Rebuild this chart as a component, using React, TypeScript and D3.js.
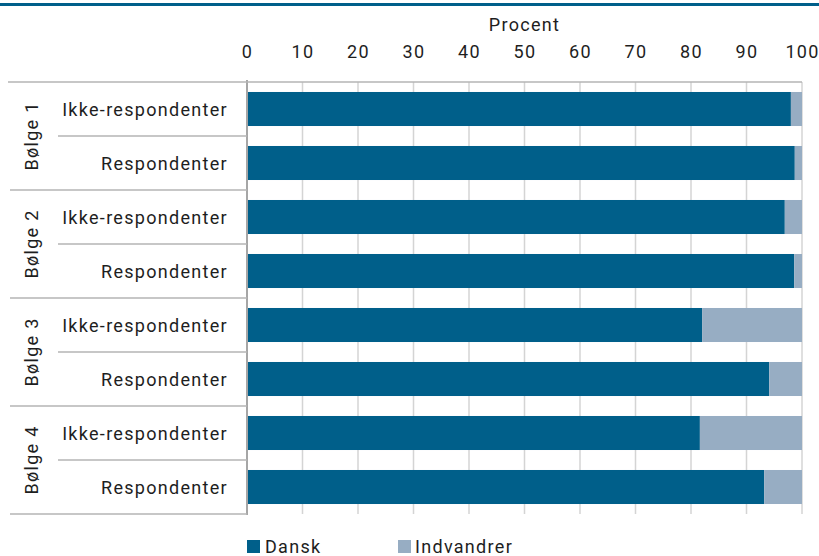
import React from "react";
import * as d3 from "d3";

const groups = ["Bølge 1", "Bølge 2", "Bølge 3", "Bølge 4"];
const subgroups = ["Ikke-respondenter", "Respondenter"];
const dansk = [98.0, 98.7, 96.9, 98.6, 82.0, 94.1, 81.6, 93.2];
const indvandrer = [2.0, 1.3, 3.1, 1.4, 18.0, 5.9, 18.4, 6.8];
const seriesNames = ["Dansk", "Indvandrer"];
const ticks = [0, 10, 20, 30, 40, 50, 60, 70, 80, 90, 100];

const W = 819, H = 556;
const C_DANSK = "#005f8a";
const C_IND = "#97adc3";
const FONT = "Roboto, 'DejaVu Sans', sans-serif";
const FS = 18;
const LS = 1.3;
const TXT = "#1e1e1e";

export default function App() {
  const rows = groups.flatMap((g) => subgroups.map((s) => `${g}|${s}`));
  const x = d3.scaleLinear().domain([0, 100]).range([247, 802]);
  const y = d3.scaleBand().domain(rows).range([82, 514]).paddingInner(0.37).paddingOuter(0.185);
  const step = y.step();
  const stack = d3.stack<number>().keys(["d", "i"]).value((idx, k) => (k === "d" ? dansk[idx] : indvandrer[idx]));
  const stacked = stack(rows.map((_, i) => i));
  const colors = [C_DANSK, C_IND];

  return (
    <svg width={W} height={H} style={{ position: "absolute", left: 0, top: 0 }} fontFamily={FONT} letterSpacing={LS}>
      <rect x={0} y={3} width={W} height={3} fill={C_DANSK} />
      <text x={(x(0) + x(100)) / 2} y={30.5} textAnchor="middle" fontSize={FS} fill={TXT}>Procent</text>
      {ticks.map((t) => (
        <text key={t} x={x(t) + 0.5} y={57.5} textAnchor="middle" fontSize={FS} fill={TXT}>{t}</text>
      ))}
      {ticks.map((t) => (
        <line key={"g" + t} x1={x(t)} x2={x(t)} y1={82} y2={514} stroke="#d4d4d4" strokeWidth={1.5} />
      ))}
      {stacked.map((layer, li) =>
        layer.map((seg, ri) => (
          <rect key={li + "-" + ri} x={x(seg[0])} y={y(rows[ri])!} width={x(seg[1]) - x(seg[0])} height={y.bandwidth()} fill={colors[li]} />
        ))
      )}
      <line x1={247} x2={247} y1={80} y2={515} stroke="#a6a6a6" strokeWidth={2} />
      <line x1={8} x2={802} y1={82} y2={82} stroke="#b4b4b4" strokeWidth={1.5} />
      {groups.map((g, gi) => {
        const y0 = 82 + gi * 2 * step;
        return (
          <g key={g}>
            <line x1={10} x2={247} y1={y0 + 2 * step} y2={y0 + 2 * step} stroke="#b4b4b4" strokeWidth={1.5} />
            <line x1={58} x2={247} y1={y0 + step} y2={y0 + step} stroke="#b4b4b4" strokeWidth={1.5} />
            <text transform={`translate(38,${y0 + step}) rotate(-90)`} textAnchor="middle" fontSize={FS} fill={TXT}>{g}</text>
          </g>
        );
      })}
      {rows.map((r) => {
        const sub = r.split("|")[1];
        return (
          <text key={r} x={228} y={y(r)! + y.bandwidth() / 2 + 6.5} textAnchor="end" fontSize={FS} fill={TXT}>{sub}</text>
        );
      })}
      <rect x={247} y={540} width={13} height={13} fill={C_DANSK} />
      <text x={265} y={553} fontSize={FS} fill={TXT}>{seriesNames[0]}</text>
      <rect x={398} y={540} width={13} height={13} fill={C_IND} />
      <text x={415} y={553} fontSize={FS} fill={TXT}>{seriesNames[1]}</text>
    </svg>
  );
}
